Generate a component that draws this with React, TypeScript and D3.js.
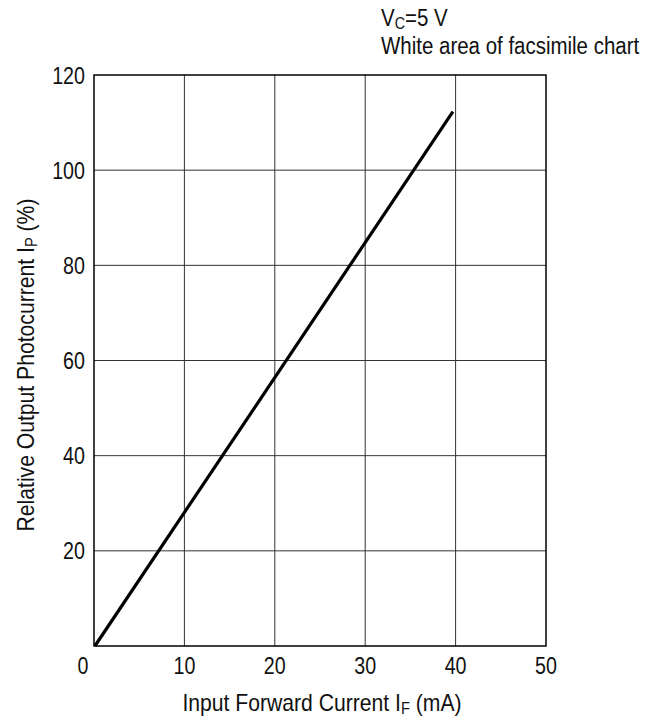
import React from "react";
import * as d3 from "d3";

const xTicks = [0, 10, 20, 30, 40, 50];
const yTicks = [20, 40, 60, 80, 100, 120];
const yGrid = [20, 40, 60, 80, 100];
const xGrid = [10, 20, 30, 40];
const lineX = [0.1, 39.7];
const lineY = [0, 112.3];

const W = 649, H = 724;
const L = 94, R = 546, T = 75, B = 646;
const FONT = "'Liberation Sans', Arial, sans-serif";

function Txt(props: { x: number; y: number; rot?: number; anchor?: string; size: number; sx: number; children: React.ReactNode }) {
  const { x, y, rot, anchor, size, sx, children } = props;
  const tr = `translate(${x},${y})` + (rot ? ` rotate(${rot})` : "") + ` scale(${sx},1)`;
  return (
    <text transform={tr} textAnchor={anchor || "start"} fontSize={size} fill="#111" fontFamily={FONT}>
      {children}
    </text>
  );
}

export default function App() {
  const x = d3.scaleLinear().domain([0, 50]).range([L, R]);
  const y = d3.scaleLinear().domain([0, 120]).range([B, T]);
  const pts: [number, number][] = lineX.map((v, i) => [v, lineY[i]]);
  const line = d3.line<[number, number]>().x(d => x(d[0])).y(d => y(d[1]));
  return (
    <svg width={W} height={H} style={{ position: "absolute", left: 0, top: 0 }}>
      <rect width={W} height={H} fill="#fff" />
      {xGrid.map(v => (
        <line key={"gx" + v} x1={x(v)} x2={x(v)} y1={T} y2={B} stroke="#333" strokeWidth={1} />
      ))}
      {yGrid.map(v => (
        <line key={"gy" + v} x1={L} x2={R} y1={y(v)} y2={y(v)} stroke="#333" strokeWidth={1} />
      ))}
      <rect x={L} y={T} width={R - L} height={B - T} fill="none" stroke="#000" strokeWidth={1.5} />
      <path d={line(pts) || ""} fill="none" stroke="#000" strokeWidth={3.2} />
      {xTicks.map(v => (
        <Txt key={"tx" + v} x={x(v) - (v === 0 ? 11 : 0)} y={B + 28} anchor="middle" size={24} sx={0.82}>{v}</Txt>
      ))}
      {yTicks.map(v => (
        <Txt key={"ty" + v} x={L - 9} y={y(v) + 8.5} anchor="end" size={24} sx={0.82}>{v}</Txt>
      ))}
      <Txt x={322} y={711} anchor="middle" size={23} sx={0.92}>
        Input Forward Current I<tspan fontSize={16} dy={3}>F</tspan><tspan dy={-3}> (mA)</tspan>
      </Txt>
      <Txt x={34} y={365} rot={-90} anchor="middle" size={23} sx={0.92}>
        Relative Output Photocurrent I<tspan fontSize={16} dy={3}>P</tspan><tspan dy={-3}> (%)</tspan>
      </Txt>
      <Txt x={381} y={26} size={23} sx={0.89}>
        V<tspan fontSize={16} dy={3}>C</tspan><tspan dy={-3}>=5 V</tspan>
      </Txt>
      <Txt x={381} y={54} size={23} sx={0.89}>White area of facsimile chart</Txt>
    </svg>
  );
}
